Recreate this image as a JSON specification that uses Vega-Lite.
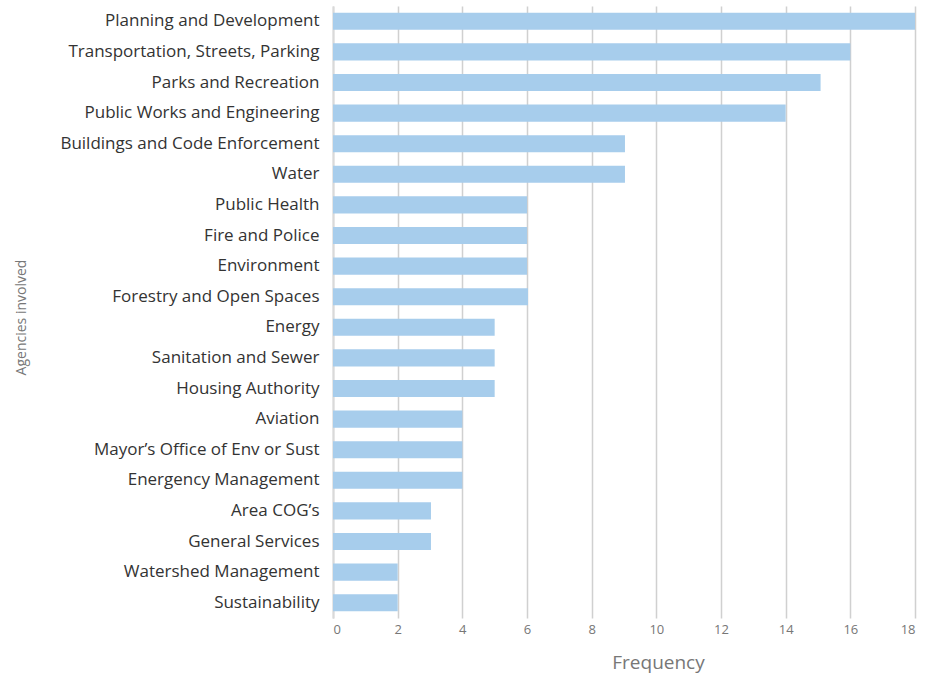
{
  "$schema": "https://vega.github.io/schema/vega-lite/v6.json",
  "width": 582,
  "height": 612,
  "autosize": "none",
  "padding": {"left": 333, "top": 6, "right": 16, "bottom": 57},
  "background": "white",
  "config": {"view": {"stroke": null}},
  "data": {
    "values": [
      {"agency": "Planning and Development", "frequency": 18},
      {"agency": "Transportation, Streets, Parking", "frequency": 16},
      {"agency": "Parks and Recreation", "frequency": 15.08},
      {"agency": "Public Works and Engineering", "frequency": 14},
      {"agency": "Buildings and Code Enforcement", "frequency": 9.03},
      {"agency": "Water", "frequency": 9.03},
      {"agency": "Public Health", "frequency": 6},
      {"agency": "Fire and Police", "frequency": 6},
      {"agency": "Environment", "frequency": 6},
      {"agency": "Forestry and Open Spaces", "frequency": 6.03},
      {"agency": "Energy", "frequency": 5},
      {"agency": "Sanitation and Sewer", "frequency": 5},
      {"agency": "Housing Authority", "frequency": 5},
      {"agency": "Aviation", "frequency": 4},
      {"agency": "Mayor’s Office of Env or Sust", "frequency": 4},
      {"agency": "Energency Management", "frequency": 4},
      {"agency": "Area COG’s", "frequency": 3.03},
      {"agency": "General Services", "frequency": 3.03},
      {"agency": "Watershed Management", "frequency": 2},
      {"agency": "Sustainability", "frequency": 2}
    ]
  },
  "mark": {"type": "bar", "color": "#a7cdec"},
  "encoding": {
    "y": {
      "field": "agency",
      "type": "nominal",
      "sort": null,
      "scale": {"paddingInner": 0.44, "paddingOuter": 0.22},
      "axis": {
        "title": "Agencies involved",
        "titleFont": "Open Sans",
        "titleFontSize": 14,
        "titleFontWeight": "normal",
        "titleColor": "#777777",
        "titleX": -312,
        "titleY": 311,
        "titleAngle": -90,
        "titleAlign": "center",
        "titleBaseline": "middle",
        "labelFont": "Open Sans",
        "labelFontSize": 17,
        "labelColor": "#333333",
        "labelPadding": 14,
        "ticks": false,
        "domain": true,
        "domainColor": "#d9d9d9",
        "domainWidth": 2,
        "labelLimit": 400
      }
    },
    "x": {
      "field": "frequency",
      "type": "quantitative",
      "scale": {"domain": [0, 18], "nice": false},
      "axis": {
        "values": [0, 2, 4, 6, 8, 10, 12, 14, 16, 18],
        "title": "Frequency",
        "titleFont": "Open Sans",
        "titleFontSize": 19,
        "titleFontWeight": "normal",
        "titleColor": "#777777",
        "titleX": 325,
        "titleY": 44,
        "titleAlign": "center",
        "titleBaseline": "middle",
        "labelFont": "Open Sans",
        "labelFontSize": 13,
        "labelColor": "#777777",
        "labelPadding": 5,
        "ticks": false,
        "domain": false,
        "grid": true,
        "gridColor": "#d0d0d0",
        "gridWidth": 1.5
      }
    }
  }
}
